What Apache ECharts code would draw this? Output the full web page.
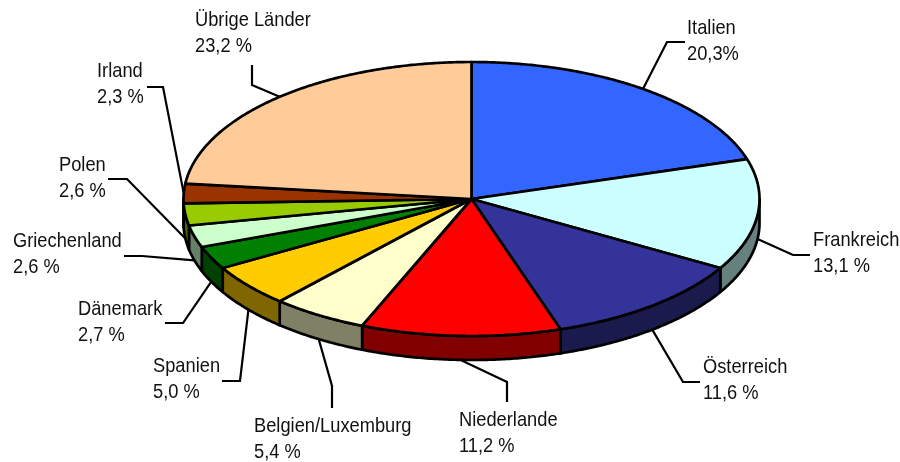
<!DOCTYPE html>
<html><head><meta charset="utf-8">
<script src="https://cdn.jsdelivr.net/npm/echarts@6/dist/echarts.min.js"></script>
<style>html,body{margin:0;padding:0;background:#fff}#c{width:900px;height:462px}</style>
</head><body><div id="c"></div>
<script>
// ---- data ----
const categories = ['Italien','Frankreich','Österreich','Niederlande','Belgien/Luxemburg','Spanien','Dänemark','Griechenland','Polen','Irland','Übrige Länder'];
const values = [20.3, 13.1, 11.6, 11.2, 5.4, 5.0, 2.7, 2.6, 2.6, 2.3, 23.2];
const percentSuffix = ['%', ' %', ' %', ' %', ' %', ' %', ' %', ' %', ' %', ' %', ' %'];
const colors = ['#3366FF','#CCFFFF','#333399','#FF0000','#FFFFCC','#FFCC00','#008000','#CCFFCC','#99CC00','#993300','#FFCC99'];

// ---- layout (label text positions: left x, first baseline y; leader elbow and end points) ----
const labelPos = [
  {x: 687, b: 35,    elbow: [667, 42],  end: [685, 42]},
  {x: 813, b: 246.5, elbow: [793, 255], end: [810, 255]},
  {x: 703, b: 373.5, elbow: [683, 382], end: [700, 382]},
  {x: 459, b: 426.5, elbow: [507, 382], end: [507, 402]},
  {x: 254, b: 432.5, elbow: [332, 386], end: [332, 408]},
  {x: 153, b: 372.5, elbow: [240, 381], end: [222, 381]},
  {x: 78,  b: 316,   elbow: [183, 323], end: [165, 323]},
  {x: 13,  b: 247.5, elbow: [142, 256], end: [124, 256]},
  {x: 59,  b: 171.5, elbow: [127, 179], end: [108, 179]},
  {x: 97,  b: 78,    elbow: [163, 87],  end: [147, 87]},
  {x: 195, b: 26.5,  elbow: [252, 85],  end: [252, 65]}
];
const geo = {cx: 471.5, cy: 199, rx: 288, ry: 137, depth: 24};
const font = {size: 18.3, scaleY: 1.15, lineHeight: 22.6};

function shade(hex, f) {
  const n = parseInt(hex.slice(1), 16);
  const r = Math.round(((n >> 16) & 255) * f), g = Math.round(((n >> 8) & 255) * f), b = Math.round((n & 255) * f);
  return 'rgb(' + r + ',' + g + ',' + b + ')';
}
const total = values.reduce((a, b) => a + b, 0);
const cum = [];
values.reduce((acc, v, i) => { cum[i] = acc; return acc + v; }, 0);

function pt(deg, dy) {
  const t = deg * Math.PI / 180;
  return [geo.cx + geo.rx * Math.sin(t), geo.cy - geo.ry * Math.cos(t) + (dy || 0)];
}
function arc(a0, a1, dy) {
  const n = Math.max(2, Math.ceil(Math.abs(a1 - a0) / 0.5));
  const out = [];
  for (let k = 0; k <= n; k++) out.push(pt(a0 + (a1 - a0) * k / n, dy));
  return out;
}

const chart = echarts.init(document.getElementById('c'), null, {renderer: 'canvas'});
chart.setOption({
  animation: false,
  backgroundColor: '#ffffff',
  series: [{
    type: 'custom',
    coordinateSystem: 'none',
    data: values.map((v, i) => ({name: categories[i], value: [v]})),
    renderItem: function (params, api) {
      const i = params.dataIndex;
      const v = api.value(0);
      const a0 = 360 * cum[i] / total;
      const a1 = 360 * (cum[i] + v) / total;
      const children = [];
      // side wall (front half only)
      const s0 = Math.max(a0, 90), s1 = Math.min(a1, 270);
      if (s1 > s0) {
        const pts = arc(s0, s1, 0).concat(arc(s1, s0, geo.depth));
        children.push({type: 'polygon', z2: 1, shape: {points: pts},
          style: {fill: shade(colors[i], 0.5), stroke: '#000', lineWidth: 2.7, lineJoin: 'round'}});
      }
      // top face
      const top = [[geo.cx, geo.cy]].concat(arc(a0, a1, 0));
      children.push({type: 'polygon', z2: 2, shape: {points: top},
        style: {fill: colors[i], stroke: '#000', lineWidth: 2.7, lineJoin: 'round'}});
      // leader line
      const mid = (a0 + a1) / 2;
      const start = pt(mid, (mid > 90 && mid < 270) ? geo.depth : 0);
      const L = labelPos[i];
      children.push({type: 'polyline', z2: 3, shape: {points: [start, L.elbow, L.end]},
        style: {stroke: '#000', lineWidth: 2.2, fill: null}});
      // label
      const txt = categories[i] + '\n' + v.toFixed(1).replace('.', ',') + percentSuffix[i];
      const baseOff = (font.lineHeight / 2 + 0.32 * font.size) * font.scaleY;
      children.push({type: 'text', z2: 3, x: L.x, y: L.b - baseOff, scaleX: 1, scaleY: font.scaleY,
        style: {text: txt, x: 0, y: 0, fill: '#111', fontSize: font.size,
          fontFamily: '"Liberation Sans", Arial, sans-serif', lineHeight: font.lineHeight,
          align: 'left', verticalAlign: 'top'}});
      return {type: 'group', children: children};
    }
  }]
});
</script></body></html>
